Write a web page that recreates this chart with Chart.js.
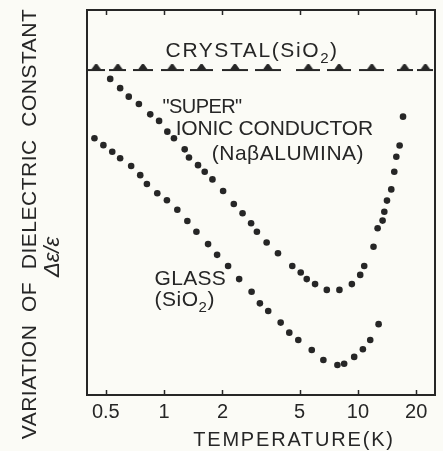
<!DOCTYPE html>
<html>
<head>
<meta charset="utf-8">
<title>Dielectric constant vs temperature</title>
<script src="https://cdn.jsdelivr.net/npm/chart.js"></script>
<style>
  html, body { margin: 0; padding: 0; background: #fbfbf6; }
</style>
</head>
<body>
<canvas id="chart" width="443" height="451"></canvas>
<script>
// temperature (K) and relative value of delta-eps/eps (arbitrary units, 0..100)
const xTicks = [0.5, 1, 2, 5, 10, 20];

const crystalT = [0.446, 0.577, 0.777, 1.10, 1.56, 2.32, 3.43, 5.55, 8.0, 11.8, 17.4, 22.3];
const crystalV = [84.4, 84.4, 84.4, 84.4, 84.4, 84.4, 84.4, 84.4, 84.4, 84.4, 84.4, 84.4];

const superT = [0.527, 0.593, 0.657, 0.741, 0.848, 0.942, 1.039, 1.124, 1.277, 1.344,
                1.496, 1.62, 1.776, 2.016, 2.289, 2.54, 2.811, 3.012, 3.381, 3.869,
                4.586, 5.07, 5.445, 6.012, 6.911, 8.03, 9.31, 10.28, 10.78, 12.04,
                12.64, 13.41, 13.69, 14.13, 14.87, 15.41, 15.79, 16.42, 17.1];
const superV = [82.1, 79.7, 77.5, 75.6, 72.9, 71.2, 68.4, 66.7, 63.8, 61.7,
                59.7, 58.0, 56.0, 53.0, 49.6, 47.2, 44.6, 42.4, 39.6, 36.8,
                33.5, 31.8, 30.1, 28.8, 27.3, 27.3, 28.8, 31.2, 33.5, 38.5,
                43.3, 45.3, 47.6, 50.5, 53.4, 58.0, 61.9, 64.8, 72.3];

const glassT = [0.437, 0.486, 0.540, 0.593, 0.676, 0.753, 0.815, 0.922, 1.034, 1.170,
                1.318, 1.468, 1.686, 1.877, 2.139, 2.439, 2.828, 3.121, 3.445, 3.995,
                4.426, 4.926, 5.78, 6.636, 7.842, 8.494, 9.57, 10.61, 11.58, 12.79];
const glassV = [66.7, 64.9, 63.2, 61.5, 59.5, 57.1, 54.8, 52.4, 50.6, 48.1,
                45.2, 42.4, 39.2, 36.4, 33.5, 30.1, 26.8, 23.8, 21.8, 18.8,
                16.2, 14.3, 11.7, 9.1, 7.8, 8.1, 9.9, 11.9, 14.3, 18.4];

const INK = '#262626';
const FONT = '"Liberation Sans", Arial, sans-serif';

// annotations, anchored in data coordinates (left edge, baseline)
const notes = [
  { parts: [['CRYSTAL(SiO'], ['2', 'sub'], [')']], t: 1.018, v: 87.8, size: 21, sp: 1.6 },
  { parts: [['"SUPER"']], t: 0.982, v: 73.2, size: 20, sp: -0.6 },
  { parts: [['IONIC CONDUCTOR']], t: 1.147, v: 67.5, size: 21, sp: -0.2 },
  { parts: [['(Na\u03B2ALUMINA)']], t: 1.762, v: 61.0, size: 21, sp: 0.5 },
  { parts: [['GLASS']], t: 0.893, v: 28.6, size: 21, sp: 0.3 },
  { parts: [['(SiO'], ['2', 'sub'], [')']], t: 0.893, v: 23.0, size: 21, sp: 0.5 }
];

const markerCache = {};
function crystalMarker(w) {
  if (markerCache[w]) return markerCache[w];
  const c = document.createElement('canvas');
  c.width = w; c.height = 16;
  const g = c.getContext('2d');
  g.strokeStyle = INK; g.fillStyle = INK; g.lineWidth = 2;
  g.beginPath(); g.moveTo(0, 8); g.lineTo(w, 8); g.stroke();
  g.beginPath();
  g.moveTo(w / 2 - 6, 9); g.lineTo(w / 2 - 1, 2); g.lineTo(w / 2 + 1, 2); g.lineTo(w / 2 + 6, 9);
  g.closePath(); g.fill();
  markerCache[w] = c;
  return c;
}

function toXY(ts, vs) {
  return ts.map((t, i) => ({ x: t, y: vs[i] }));
}

function drawParts(ctx, parts, x, y, size) {
  let cx = x;
  for (const [txt, kind] of parts) {
    if (kind === 'sub') {
      ctx.font = Math.round(size * 0.7) + 'px ' + FONT;
      ctx.fillText(txt, cx, y + size * 0.28);
    } else {
      ctx.font = size + 'px ' + FONT;
      ctx.fillText(txt, cx, y);
    }
    cx += ctx.measureText(txt).width;
  }
}

const decor = {
  id: 'decor',
  beforeDraw(chart) {
    const ctx = chart.ctx;
    ctx.save();
    ctx.fillStyle = '#fbfbf6';
    ctx.fillRect(0, 0, chart.width, chart.height);
    ctx.restore();
  },
  beforeDatasetsDraw(chart) {
    const { ctx, chartArea: a, scales: { x } } = chart;
    ctx.save();
    ctx.strokeStyle = INK;
    ctx.lineWidth = 2;
    ctx.strokeRect(a.left, a.top, a.right - a.left, a.bottom - a.top);
    ctx.lineWidth = 1.5;
    ctx.beginPath();
    xTicks.forEach(v => {
      const px = Math.round(x.getPixelForValue(v)) + 0.5;
      ctx.moveTo(px, a.bottom); ctx.lineTo(px, a.bottom - 5);
      ctx.moveTo(px, a.top); ctx.lineTo(px, a.top + 5);
    });
    ctx.stroke();
    ctx.restore();
  },
  afterDatasetsDraw(chart) {
    const { ctx, scales: { x, y } } = chart;
    ctx.save();
    ctx.fillStyle = INK;
    ctx.textBaseline = 'alphabetic';
    ctx.textAlign = 'left';
    notes.forEach(n => {
      ctx.letterSpacing = n.sp + 'px';
      drawParts(ctx, n.parts, x.getPixelForValue(n.t), y.getPixelForValue(n.v), n.size);
    });

    // x axis title
    ctx.textAlign = 'center';
    ctx.letterSpacing = '1.8px';
    ctx.font = '20px ' + FONT;
    ctx.fillText('TEMPERATURE(K)', 294, 446);

    // y axis title, two lines
    ctx.translate(36, 224);
    ctx.rotate(-Math.PI / 2);
    ctx.letterSpacing = '0.5px';
    ctx.font = '21px ' + FONT;
    ctx.fillText('VARIATION  OF  DIELECTRIC  CONSTANT', 0, 0);
    ctx.font = 'italic 22px ' + FONT;
    ctx.letterSpacing = '0px';
    ctx.fillText('\u0394\u03B5/\u03B5', -33, 23);
    ctx.restore();
  }
};

new Chart(document.getElementById('chart'), {
  type: 'scatter',
  data: {
    datasets: [
      {
        label: 'Crystal (SiO2)',
        data: toXY(crystalT, crystalV),
        showLine: false,
        pointStyle: (c) => {
          const i = c.dataIndex;
          const xs = c.chart.scales.x;
          if (i === undefined || !xs) return 'triangle';
          const px = xs.getPixelForValue(crystalT[i]);
          let gap = Infinity;
          if (i > 0) gap = Math.min(gap, px - xs.getPixelForValue(crystalT[i - 1]));
          if (i < crystalT.length - 1) gap = Math.min(gap, xs.getPixelForValue(crystalT[i + 1]) - px);
          return crystalMarker(Math.max(8, Math.round(gap * 0.78)));
        }
      },
      {
        label: 'Super ionic conductor (Na beta alumina)',
        data: toXY(superT, superV),
        showLine: false,
        pointRadius: 3.3,
        pointBackgroundColor: INK,
        pointBorderWidth: 0
      },
      {
        label: 'Glass (SiO2)',
        data: toXY(glassT, glassV),
        showLine: false,
        pointRadius: 3.3,
        pointBackgroundColor: INK,
        pointBorderWidth: 0
      }
    ]
  },
  options: {
    responsive: false,
    animation: false,
    events: [],
    layout: { padding: { left: 87, right: 8, top: 10, bottom: 0 } },
    plugins: { legend: { display: false }, tooltip: { enabled: false } },
    scales: {
      x: {
        type: 'logarithmic',
        min: 0.4,
        max: 25,
        grid: { display: false, drawTicks: false },
        border: { display: false },
        afterBuildTicks: s => { s.ticks = xTicks.map(v => ({ value: v })); },
        afterFit: s => { s.height = 56; },
        ticks: {
          color: INK,
          padding: 5,
          maxRotation: 0,
          autoSkip: false,
          font: { family: FONT, size: 20 },
          callback: v => String(v)
        },
        title: { display: false }
      },
      y: {
        type: 'linear',
        min: 0,
        max: 100,
        display: false
      }
    }
  },
  plugins: [decor]
});
</script>
</body>
</html>
